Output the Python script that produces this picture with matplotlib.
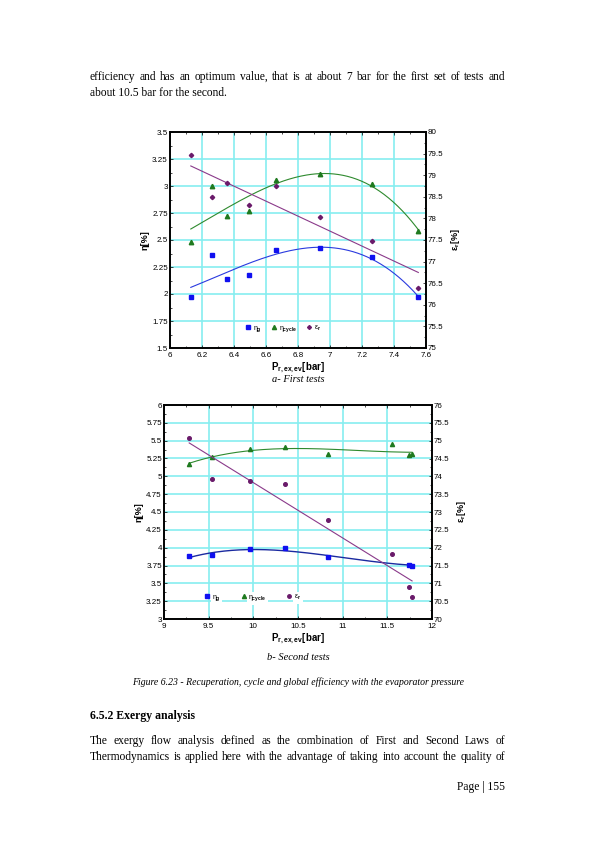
import numpy as np
import matplotlib
matplotlib.use('Agg')
import matplotlib.pyplot as plt
from matplotlib.ticker import MultipleLocator, AutoMinorLocator, FormatStrFormatter
from matplotlib.lines import Line2D

# a- first tests
p_a = [6.13, 6.26, 6.354, 6.493, 6.661, 6.937, 7.263, 7.552]
eta_g_a = [1.97, 2.358, 2.143, 2.174, 2.407, 2.428, 2.339, 1.969]
eta_cyc_a = [2.477, 3.004, 2.719, 2.771, 3.056, 3.114, 3.019, 2.584]
eps_r_a = [79.46, 78.49, 78.81, 78.32, 78.74, 78.03, 77.47, 76.40]

# b- second tests
p_b = [9.282, 9.535, 9.965, 10.359, 10.834, 11.547, 11.74, 11.777]
p_b_g = [9.282, 9.535, 9.965, 10.359, 10.834, 11.74, 11.777]
eta_g_b = [3.881, 3.895, 3.975, 3.989, 3.867, 3.764, 3.75]
eta_cyc_b = [5.175, 5.273, 5.381, 5.405, 5.311, 5.447, 5.301, 5.31]
eps_r_b = [75.07, 73.93, 73.88, 73.78, 72.77, 71.83, 70.90, 70.61]

legend_labels = [r'$\eta_\mathbf{g}$', r'$\eta_\mathbf{cycle}$', r'$\varepsilon_\mathbf{r}$']

W, H = 595, 842
BLUE = '#1010f0'
GREEN = '#1f7a1f'
PURPLE = '#6a1a6a'
GRID = '#86eef0'

serif = ['Liberation Serif', 'DejaVu Serif']
sans = ['Liberation Sans', 'DejaVu Sans']
plt.rcParams['font.family'] = sans
plt.rcParams['mathtext.fontset'] = 'custom'
plt.rcParams['mathtext.rm'] = 'Liberation Sans'
plt.rcParams['mathtext.it'] = 'Liberation Sans'
plt.rcParams['mathtext.bf'] = 'Liberation Sans:bold'


def fit_line(x, y, deg):
    c = np.polyfit(x, y, deg)
    xs = np.linspace(min(x), max(x), 200)
    return xs, np.polyval(c, xs)


def setup_axes(rect, xlim, xstep, ylim, y2lim):
    ax = fig.add_axes(rect)
    ax.set_xlim(xlim)
    ax.set_ylim(ylim)
    ax.xaxis.set_major_locator(MultipleLocator(xstep))
    ax.yaxis.set_major_locator(MultipleLocator(0.25))
    ax.xaxis.set_major_formatter(FormatStrFormatter('%g'))
    ax.yaxis.set_major_formatter(FormatStrFormatter('%g'))
    ax.grid(True, color=GRID, lw=1.2)
    ax.set_axisbelow(True)
    ax2 = ax.twinx()
    ax2.set_ylim(y2lim)
    ax2.yaxis.set_major_locator(MultipleLocator(0.5))
    ax2.yaxis.set_major_formatter(FormatStrFormatter('%g'))
    for a in (ax, ax2):
        for s in a.spines.values():
            s.set_linewidth(1.2)
        a.tick_params(which='both', direction='in', labelsize=5.8, pad=1.5,
                      top=True, width=0.5)
        a.tick_params(which='major', length=2.5)
        a.tick_params(which='minor', length=1.2)
        a.xaxis.set_minor_locator(AutoMinorLocator(2))
        a.yaxis.set_minor_locator(AutoMinorLocator(2))
    ax.tick_params(axis='x', pad=3)
    ax.tick_params(axis='y', right=False, which='both')
    ax.set_xlabel(r'$\mathbf{P_{r,ex,ev}}$[bar]', fontsize=7, fontweight='bold', labelpad=1)
    ax.set_ylabel('η[%]', fontsize=6.5, fontweight='bold', labelpad=2)
    ax2.set_ylabel(r'$\mathbf{\varepsilon_r}$[%]', fontsize=6.5, fontweight='bold',
                   rotation=90, labelpad=4)
    return ax, ax2


fig = plt.figure(figsize=(W / 100, H / 100), dpi=100)

# ---- top chart
ax, ax2 = setup_axes([170 / W, 1 - 348 / H, 256 / W, 216 / H],
                     (6, 7.6), 0.2, (1.5, 3.5), (75, 80))
ax.plot(*fit_line(p_a, eta_g_a, 3), color='#2a3adf', lw=0.8)
ax.plot(*fit_line(p_a, eta_cyc_a, 3), color='#2e8a2e', lw=0.8)
ax2.plot(*fit_line(p_a, eps_r_a, 1), color='#8a3a8a', lw=0.8)
ax.plot(p_a, eta_g_a, 's', color=BLUE, ms=3.2, ls='none')
ax.plot(p_a, eta_cyc_a, '^', color=GREEN, ms=3.2, ls='none')
ax2.plot(p_a, eps_r_a, 'D', color=PURPLE, ms=2.2, ls='none')
handles = [Line2D([], [], marker='s', color=BLUE, ms=3, ls='none'),
           Line2D([], [], marker='^', color=GREEN, ms=3, ls='none'),
           Line2D([], [], marker='D', color=PURPLE, ms=2, ls='none')]
ax2.legend(handles, legend_labels,
           ncol=3, loc='center', bbox_to_anchor=(0.44, 0.088), frameon=False,
           fontsize=5, handletextpad=0.2, columnspacing=1.3, handlelength=1)

# ---- bottom chart
bx, bx2 = setup_axes([164 / W, 1 - 619 / H, 268 / W, 214 / H],
                     (9, 12), 0.5, (3, 6), (70, 76))
bx.plot(*fit_line(p_b_g, eta_g_b, 3), color='#1a2aa0', lw=1.0)
bx.plot(*fit_line(p_b, eta_cyc_b, 3), color='#2e8a2e', lw=0.8)
bx2.plot(*fit_line(p_b, eps_r_b, 1), color='#8a3a8a', lw=0.8)
bx.plot(p_b_g, eta_g_b, 's', color=BLUE, ms=2.6, ls='none')
bx.plot(p_b, eta_cyc_b, '^', color=GREEN, ms=3, ls='none')
bx2.plot(p_b, eps_r_b, 'o', color=PURPLE, ms=2.6, ls='none')
handles = [Line2D([], [], marker='s', color=BLUE, ms=2.5, ls='none'),
           Line2D([], [], marker='^', color=GREEN, ms=3, ls='none'),
           Line2D([], [], marker='o', color=PURPLE, ms=2.5, ls='none')]
leg = bx2.legend(handles, legend_labels,
                 ncol=3, loc='center', bbox_to_anchor=(0.33, 0.098), frameon=False,
                 fontsize=5, handletextpad=0.2, columnspacing=2.8, handlelength=1)
for t in leg.get_texts():
    t.set_bbox(dict(facecolor='white', edgecolor='none', pad=1))

# ---- page text
def page_text(x, y, s, **kw):
    kw.setdefault('family', serif)
    kw.setdefault('fontsize', 8.3)
    kw.setdefault('va', 'center')
    return fig.text(x / W, 1 - y / H, s, **kw)


def justified(y, s, x0=90, x1=505, **kw):
    # spread the words so the line fills x0..x1
    words = s.split()
    texts = [page_text(0, y, w, **kw) for w in words]
    r = fig.canvas.get_renderer()
    widths = [t.get_window_extent(r).width for t in texts]
    gap = (x1 - x0 - sum(widths)) / (len(words) - 1)
    x = x0
    for t, w in zip(texts, widths):
        t.set_x(x / W)
        x += w + gap


justified(77, 'efficiency and has an optimum value, that is at about 7 bar for the first set of tests and')
page_text(90, 93, 'about 10.5 bar for the second.')
page_text(298, 380, 'a- First tests', ha='center', style='italic', fontsize=7.5)
page_text(298, 657, 'b- Second tests', ha='center', style='italic', fontsize=7.5)
page_text(298, 682, 'Figure 6.23 - Recuperation, cycle and global efficiency with the evaporator pressure',
          ha='center', style='italic', fontsize=7.0)
page_text(90, 716, '6.5.2 Exergy analysis', fontweight='bold', fontsize=8.5)
justified(741, 'The exergy flow analysis defined as the combination of First and Second Laws of')
justified(757, 'Thermodynamics is applied here with the advantage of taking into account the quality of')
page_text(505, 787, 'Page | 155', ha='right', fontsize=8.3)

fig.savefig('out.png', dpi=100)
